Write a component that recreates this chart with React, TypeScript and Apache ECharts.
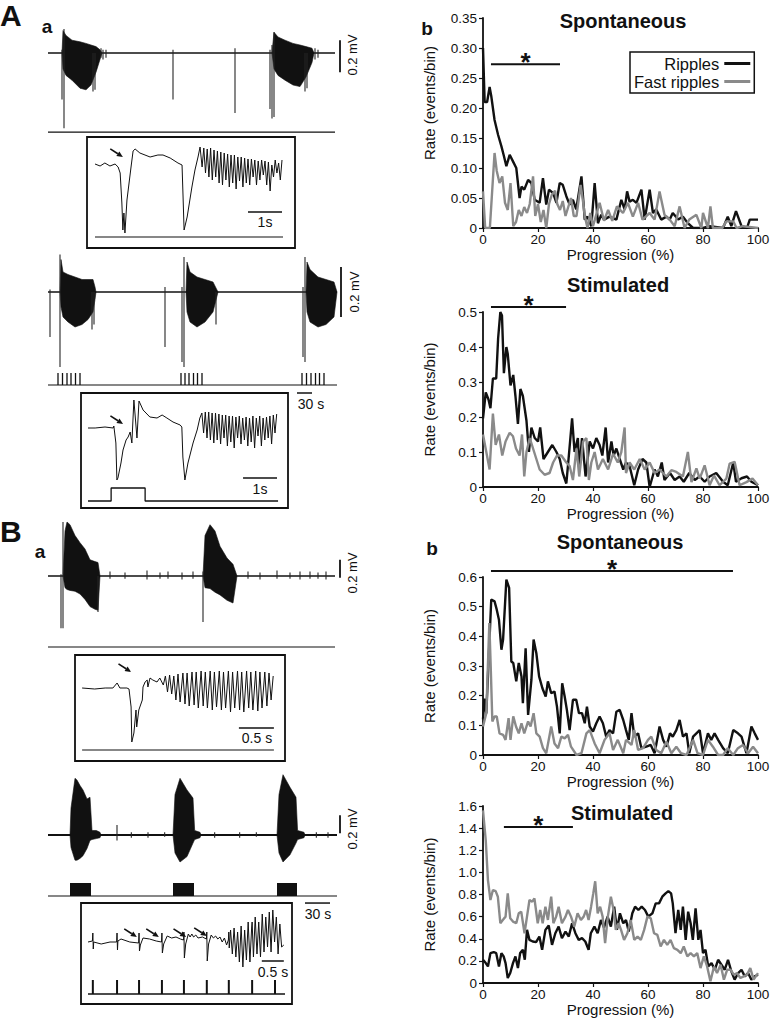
import React, { useEffect, useRef } from 'react';
import * as echarts from 'echarts';

const FONT = "'Liberation Sans', Arial, Helvetica, sans-serif";
const INK = '#111111';
const GREY = '#8a8a8a';

// ================= (b) panels: event rate vs seizure progression =================
const seriesNames = ['Ripples', 'Fast ripples'];
const panelTitles = ['Spontaneous', 'Stimulated', 'Spontaneous', 'Stimulated'];
const rateMax = [0.35, 0.5, 0.6, 1.6];
const rateStep = [0.05, 0.1, 0.1, 0.2];
const rateDecimals = [2, 1, 1, 1];
const progressionRange = [0, 100];
const progressionStep = 20;

const ripplesSpontA = [[0,0.30],[0.6,0.21],[1.5,0.21],[2.4,0.235],[3,0.22],[4.2,0.18],[5.5,0.155],[6.7,0.136],[7.6,0.12],[8.5,0.103],[9.7,0.122],[10.9,0.111],[12.1,0.1],[13.3,0.05],[14,0.069],[15,0.064],[16.4,0.08],[17.6,0.075],[18.8,0.047],[20.6,0.042],[21.8,0.083],[23,0.039],[24,0.064],[25.5,0.058],[26.7,0.042],[27.9,0.075],[29,0.072],[30.3,0.053],[31.5,0.039],[32.7,0.047],[33.9,0.031],[35.8,0.086],[37,0.014],[38,0.019],[39.4,0.003],[40.6,0.075],[41.8,0.008],[43,0.022],[44,0.014],[46,0.019],[48.5,0.014],[50.3,0.047],[51.5,0.031],[52.4,0.061],[53.3,0.044],[54.5,0.047],[55.8,0.042],[57.6,0.064],[58.8,0.014],[60.6,0.064],[61.8,0.025],[63,0.031],[64.8,0.014],[66.7,0.019],[67.9,0.014],[69,0.025],[71,0.014],[72.7,0.019],[74.5,0.008],[76.4,0],[80,0],[82.4,0.003],[87.3,0],[89,0.019],[90.3,0.003],[92,0.028],[94,0.003],[96,0],[97,0.014],[100,0.014]];
const fastSpontA = [[0,0.061],[0.8,0],[2.5,0],[4.2,0.125],[5,0.095],[6,0.075],[7,0.086],[8,0.042],[9,0.03],[10,0.075],[11,0.003],[12,0.01],[13,0.03],[14,0.02],[15,0.035],[16,0.025],[17,0.04],[18.2,0.086],[19,0.02],[20,0.04],[21,0.01],[22,0.03],[23,0],[24,0.04],[25,0.055],[26.2,0.062],[27,0.04],[28,0.03],[29,0.045],[30,0.02],[31,0.035],[32,0.05],[33,0.02],[34,0.02],[35.5,0.072],[36.5,0.04],[37,0.02],[38,0],[39,0.025],[40,0.003],[42.4,0.042],[44,0.012],[45.5,0.03],[47,0.012],[48.7,0.036],[50.9,0.025],[52.7,0.042],[54.5,0.019],[56.4,0.042],[58,0.014],[60.6,0.025],[62.4,0.014],[64.2,0.061],[66,0.022],[67.9,0.014],[69.7,0.003],[71.5,0.036],[73.3,0],[75,0.014],[77.6,0.022],[79.4,0],[80,0.025],[81.8,0],[82.7,0.036],[83.6,0],[87,0],[88.5,0.011],[91,0.011],[92.2,0],[94.5,0.003],[100,0]];
const ripplesStimA = [[0,0.196],[1,0.27],[2,0.25],[2.7,0.225],[3.6,0.31],[4.8,0.31],[5.5,0.425],[6.3,0.5],[6.9,0.49],[7.6,0.325],[8.5,0.4],[9,0.38],[10,0.29],[11,0.32],[11.8,0.26],[12.7,0.18],[13.6,0.28],[14.5,0.26],[15.8,0.19],[16.7,0.1],[17.6,0.17],[18.8,0.14],[20,0.13],[20.8,0.17],[22,0.08],[23.6,0.1],[25.2,0.12],[26.7,0.1],[27.9,0.08],[29,0.04],[30.3,0.01],[31,0.07],[32.4,0.196],[33.3,0.1],[34.5,0.14],[35,0.05],[36,0.14],[37.3,0.03],[38.8,0.13],[40,0.11],[41.2,0.14],[42.4,0.12],[43.4,0.09],[44.6,0.17],[45.5,0.07],[46.7,0.13],[47.5,0.09],[48.5,0.11],[49.7,0.08],[51,0.05],[52,0.07],[53.3,0.06],[55,0.005],[56.4,0.05],[58,0.08],[59.4,0.07],[60.6,0],[62.4,0.05],[63.6,0.03],[65,0.07],[66,0.02],[68,0.04],[69.7,0.02],[71.5,0.03],[73,0.015],[75,0.04],[77,0.02],[78.8,0.03],[80.6,0.015],[82.4,0.03],[84.8,0.04],[87.3,0.015],[89,0.005],[91,0.07],[92,0.015],[94,0.025],[96,0.03],[97.6,0.015],[100,0.005]];
const fastStimA = [[0,0.15],[1.2,0.1],[2.4,0.05],[3.6,0.21],[4.6,0.12],[5.8,0.15],[7,0.09],[8.2,0.13],[9.7,0.155],[10.9,0.145],[12,0.11],[13.3,0.09],[14.2,0.15],[15,0.03],[15.8,0.1],[17,0.14],[18.2,0.11],[19.4,0.08],[20.6,0.05],[22.4,0.035],[24.2,0.04],[25.5,0.07],[26.9,0.09],[28.5,0.09],[30.3,0.07],[31.5,0.06],[32.7,0.02],[34,0.11],[35,0.03],[36.4,0.13],[37.6,0.14],[38.5,0.02],[39.4,0.07],[40.6,0.1],[41.8,0.05],[43.6,0.08],[45.5,0.05],[47.3,0.095],[49,0.07],[50.3,0.1],[51.5,0.17],[52,0.04],[53.3,0.07],[55,0.05],[57,0.08],[58.8,0.05],[60.6,0.07],[62.4,0.04],[64.2,0.05],[66.7,0.03],[68.5,0.048],[70.3,0.043],[72.7,0.03],[74.5,0.1],[75.8,0.014],[77.6,0.053],[78.8,0.024],[80.6,0.062],[82.4,0.005],[84,0.033],[86,0.005],[88.5,0.024],[89.7,0.067],[91.5,0.072],[93.3,0.005],[95.8,0.014],[98,0.024],[100,0.005]];
const ripplesSpontB = [[0,0.12],[0.5,0.19],[1.2,0.14],[3,0.524],[4.2,0.518],[5,0.49],[5.8,0.456],[6.7,0.355],[7.3,0.389],[8.5,0.591],[9.5,0.563],[10.3,0.315],[11,0.31],[12.1,0.248],[13,0.31],[14,0.265],[14.5,0.175],[15.5,0.36],[16.4,0.135],[17.6,0.253],[18.4,0.389],[19.4,0.343],[20.4,0.265],[21.6,0.225],[22.8,0.197],[23.6,0.248],[24.8,0.208],[26,0.214],[26.9,0.163],[27.9,0.073],[28.8,0.242],[29.7,0.197],[30.5,0.152],[31.5,0.084],[32.7,0.186],[33.9,0.186],[34.9,0.141],[36,0.141],[37,0.107],[37.8,0.163],[38.8,0.096],[40,0.079],[41.2,0.107],[42.4,0.13],[43.6,0.107],[44.8,0.062],[46,0.084],[47.3,0.073],[48.5,0.146],[49.7,0.152],[51,0.118],[52,0.084],[53,0.051],[54,0.141],[55,0.062],[56.4,0.073],[57.6,0.023],[59.4,0.028],[61,0.034],[62.4,0.006],[64.2,0.096],[65.5,0.051],[66.7,0.028],[68,0.073],[69,0.062],[70.3,0.084],[71.5,0.118],[72.7,0.062],[74,0.073],[75,0.006],[76.4,0.062],[77.6,0.073],[78.8,0.084],[80,0.006],[81.8,0.073],[83,0.051],[84.2,0.073],[85.5,0.051],[87.3,0.023],[89,0.006],[91,0.084],[92.7,0.073],[94,0.062],[95.8,0.006],[97.6,0.096],[98.8,0.073],[100,0.051]];
const fastSpontB = [[0,0.096],[1.2,0.141],[2.3,0.445],[2.8,0.3],[3.4,0.113],[4.2,0.13],[5,0.13],[6,0.073],[7.3,0.068],[8.2,0.051],[9.3,0.124],[10,0.051],[11,0.13],[12,0.096],[13,0.073],[14,0.107],[15,0.073],[16.4,0.113],[17.3,0.096],[18.4,0.141],[19.4,0.073],[20.6,0.062],[21.8,0.023],[23,0.006],[24.8,0.096],[26,0.039],[27.3,0.023],[28.5,0.062],[29.7,0.056],[30.9,0.068],[32,0.028],[34,0],[35.8,0.006],[37.6,0.073],[38.8,0.084],[40.6,0.039],[42.4,0.006],[44.2,0.051],[46,0.073],[47.3,0.017],[49,0.051],[51,0.006],[52,0.051],[54,0.034],[55,0.084],[56.4,0.017],[58.2,0.023],[60,0.051],[61.2,0.062],[63,0.017],[64.8,0.006],[66.7,0.045],[68.5,0.006],[70.3,0.028],[72,0.006],[74,0],[76.4,0.051],[78,0.006],[80,0],[81.8,0.051],[83.6,0.028],[85.5,0],[87.3,0],[89,0.023],[91,0],[92.7,0.023],[94.5,0.034],[96.4,0.006],[98.2,0.028],[100,0.006]];
const ripplesStimB = [[0,0.21],[1,0.18],[1.8,0.15],[2.7,0.27],[3.9,0.28],[4.8,0.27],[5.8,0.15],[6.7,0.27],[7.5,0.24],[8.2,0.18],[9,0.045],[9.9,0.09],[10.9,0.18],[11.8,0.24],[12.7,0.135],[13.5,0.27],[14.5,0.3],[15.2,0.21],[16,0.48],[16.9,0.39],[18.1,0.375],[19.3,0.37],[20.5,0.42],[21.5,0.3],[22.7,0.48],[23.9,0.52],[25.1,0.345],[26.3,0.45],[27.5,0.51],[28.7,0.405],[30,0.465],[31.2,0.42],[32.4,0.54],[33.6,0.45],[34.8,0.39],[36,0.405],[37.2,0.375],[38.4,0.3],[39.2,0.45],[40.5,0.51],[41.7,0.45],[42.9,0.57],[44,0.5],[45.3,0.6],[46.5,0.51],[47.7,0.69],[48.7,0.48],[49.8,0.63],[51,0.54],[52,0.57],[53,0.465],[54.3,0.63],[55.3,0.69],[56.5,0.66],[57.7,0.69],[58.9,0.66],[60.1,0.6],[61.6,0.63],[62.8,0.72],[64,0.72],[65.2,0.78],[66.4,0.81],[67.4,0.83],[68.4,0.81],[69,0.72],[70,0.45],[71,0.66],[71.9,0.48],[72.7,0.69],[73.7,0.39],[74.6,0.645],[75.5,0.54],[76.3,0.39],[77.3,0.675],[78.3,0.39],[79.1,0.48],[80,0.27],[80.9,0.3],[81.9,0.15],[83.1,0.18],[84.3,0.12],[85.5,0.21],[86.7,0.165],[87.9,0.12],[89.1,0.21],[90.3,0.105],[91.5,0.03],[92.8,0.09],[94,0.12],[95.2,0.06],[96.4,0.09],[97.6,0.03],[98.8,0.06],[100,0.075]];
const fastStimB = [[0,1.56],[1,1.29],[1.8,0.93],[2.7,0.75],[3.6,0.84],[4.6,0.83],[5.4,0.78],[6.3,0.54],[7.2,0.57],[8.2,0.6],[9,0.81],[9.9,0.585],[10.9,0.555],[12.1,0.54],[13,0.63],[13.9,0.645],[15.1,0.45],[16,0.6],[16.9,0.75],[17.9,0.735],[18.7,0.765],[19.9,0.54],[20.8,0.66],[21.7,0.54],[22.7,0.69],[23.6,0.57],[24.8,0.78],[25.6,0.54],[26.6,0.6],[27.5,0.69],[28.7,0.54],[30,0.6],[30.9,0.66],[32,0.6],[33.2,0.51],[34.4,0.63],[35.6,0.57],[36.6,0.6],[37.5,0.66],[38.4,0.57],[39.3,0.69],[40.1,0.81],[40.8,0.92],[41.7,0.63],[42.6,0.69],[43.5,0.6],[44.4,0.36],[45.4,0.6],[46.5,0.78],[47.5,0.66],[48.3,0.48],[49.3,0.54],[50.2,0.48],[51.3,0.39],[52.5,0.45],[53.7,0.57],[55,0.39],[56.2,0.42],[57.4,0.39],[58.6,0.48],[59.8,0.6],[61,0.585],[62.2,0.45],[63.4,0.435],[64.6,0.33],[65.8,0.39],[67,0.345],[68.2,0.39],[69.4,0.315],[70.7,0.3],[71.9,0.27],[73,0.33],[74.3,0.24],[75.5,0.27],[76.7,0.24],[77.9,0.27],[79.1,0.135],[80.3,0.24],[81.5,0.15],[82.7,0.015],[84,0.15],[85.1,0.09],[86.4,0.165],[87.6,0.03],[88.8,0.12],[90,0.12],[91.2,0.075],[92.4,0.09],[93.6,0.045],[94.8,0.06],[96,0.075],[97.2,0.135],[98.4,0.03],[100,0.09]];

const ripplesByPanel = [ripplesSpontA, ripplesStimA, ripplesSpontB, ripplesStimB];
const fastByPanel = [fastSpontA, fastStimA, fastSpontB, fastStimB];

// significance bars: [from %, to %, rate level]
const sigBars = [[2.9, 28, 0.273], [2.9, 30.2, 0.514], [2.9, 90.9, 0.62], [7.6, 32.7, 1.41]];

// ================= (a) panels: field-potential recordings =================
// long traces: time (s), potential (mV)
const burstsA1 = [
  [[28,0,0],[30,0.14,-0.1],[36,0.11,-0.14],[48,0.08,-0.17],[64,0.07,-0.22],[76,0.06,-0.23],[86,0.05,-0.2],[96,0.04,-0.12],[104,0.02,-0.04],[108,0,0]],
  [[448,0,0],[452,0.13,-0.1],[460,0.1,-0.14],[474,0.08,-0.17],[490,0.06,-0.2],[504,0.05,-0.21],[516,0.04,-0.15],[528,0.03,-0.06],[532,0,0]],
];
const spikesA1 = [[28,-0.29,0.02],[32,-0.47,0.15],[90,-0.24,0],[94,-0.23,0],[106,-0.03,0.03],[110,-0.04,0.02],[116,-0.03,0.02],[250,-0.29,0.02],[374,-0.375,0.03],[444,-0.35,0.02],[448,-0.41,0.05],[452,-0.4,0.13],[514,-0.24,0],[518,-0.22,0],[534,-0.04,0.03],[540,-0.03,0.02]];
const baselineA1 = [[0,0],[574,0]];
const stimChannelA1 = [[0,-0.494],[574,-0.494]];
const scaleA1_mV = [[584,-0.12],[584,0.08]];

const burstsA2 = [
  [[24,0,0],[26,0.13,-0.06],[30,0.08,-0.1],[40,0.07,-0.12],[54,0.06,-0.14],[68,0.05,-0.13],[80,0.05,-0.11],[90,0.05,-0.08],[94,0.02,-0.03],[96,0,0]],
  [[276,0,0],[278,0.12,-0.08],[284,0.08,-0.12],[298,0.06,-0.14],[314,0.05,-0.12],[330,0.04,-0.08],[340,0,0]],
  [[516,0,0],[518,0.12,-0.08],[524,0.09,-0.12],[540,0.06,-0.14],[556,0.05,-0.13],[572,0.04,-0.1],[578,0,0]],
];
const spikesA2 = [[4,-0.18,0.01],[24,-0.3,0.15],[88,-0.15,0],[92,-0.13,0],[234,-0.22,0.02],[268,-0.28,0.02],[272,-0.3,0.14],[336,-0.13,0],[510,-0.26,0.02],[514,-0.28,0.14]];
const baselineA2 = [[0,0],[578,0]];
const stimBaseA2 = [[0,-0.372],[578,-0.372]];
const stimTrainsA2 = [20,29,38,46,55,64,266,274,282,291,299,308,508,517,526,535,543,552].map((t) => [t, -0.372, -0.324]);
const scaleA2_mV = [[586,-0.1],[586,0.1]];
const scaleA2_30s = [[498,-0.404],[528,-0.404]];

const burstsB1 = [
  [[30,0,0],[34,0.5,-0.13],[38,0.6,-0.15],[44,0.57,-0.16],[54,0.45,-0.17],[64,0.37,-0.2],[74,0.3,-0.26],[84,0.18,-0.34],[94,0.16,-0.37],[100,0.15,-0.38],[104,0,0]],
  [[310,0,0],[314,0.45,-0.13],[324,0.57,-0.14],[334,0.5,-0.18],[344,0.33,-0.21],[358,0.2,-0.27],[370,0.13,-0.3],[378,0,0]],
];
const spikesB1 = [[26,-0.58,0.02],[30,-0.58,0.6],[100,-0.4,0],[310,-0.51,0.05],[124,-0.03,0.05],[154,-0.03,0.04],[198,-0.04,0.06],[224,-0.03,0.04],[240,-0.03,0.05],[268,-0.04,0.04],[290,-0.03,0.05],[400,-0.03,0.05],[424,-0.04,0.04],[458,-0.03,0.06],[484,-0.03,0.04],[504,-0.04,0.05],[524,-0.03,0.05],[540,-0.03,0.04],[556,-0.04,0.05]];
const baselineB1 = [[0,0],[574,0]];
const stimChannelB1 = [[0,-0.789],[574,-0.789]];
const scaleB1_mV = [[584,-0.02],[584,0.18]];

const burstsB2 = [
  [[26.4,0,0],[27.6,0.3,-0.14],[32.4,0.63,-0.28],[34.8,0.61,-0.28],[38.4,0.55,-0.26],[42,0.5,-0.23],[46.8,0.4,-0.15],[50.4,0.42,-0.06],[52.8,0.05,-0.05],[58,0.05,-0.04],[62.4,0.03,-0.03],[63.6,0,0]],
  [[150,0,0],[152.4,0.45,-0.2],[158.4,0.63,-0.3],[166.8,0.5,-0.24],[174,0.41,-0.09],[176,0.05,-0.05],[182.4,0.03,-0.03],[183.6,0,0]],
  [[274.8,0,0],[277.2,0.45,-0.2],[282,0.67,-0.3],[290.4,0.53,-0.22],[297.6,0.42,-0.09],[299.5,0.05,-0.05],[307.2,0.03,-0.03],[308.4,0,0]],
];
const spikesB2 = [[82.8,-0.06,0.11],[100,-0.03,0.03],[120,-0.03,0.03],[140,-0.02,0.03],[200,-0.03,0.03],[230,-0.03,0.03],[250,-0.02,0.03],[322,-0.03,0.03],[336,-0.03,0.03]];
const baselineB2 = [[0,0],[346.8,0]];
const stimBaseB2 = [[0,-0.678],[346.8,-0.678]];
const stimBlocksB2 = [[26.4,51.6],[150,175.2],[274.8,298.8]];
const scaleB2_mV = [[350.4,0.02],[350.4,0.22]];
const scaleB2_30s = [[308.4,-0.756],[338.4,-0.756]];

// insets: time (s), potential (a.u.)
const insetA1 = [[0,0.01],[0.15,-0.01],[0.29,0.02],[0.44,-0.01],[0.59,0.01],[0.68,-0.02],[0.74,-0.08],[0.79,-0.38],[0.82,-0.65],[0.85,-0.48],[0.88,-0.68],[0.94,-0.35],[1.06,-0.02],[1.12,0.14],[1.18,0.16],[1.32,0.12],[1.62,0.08],[1.85,0.1],[2,0.1],[2.21,0.07],[2.44,0.02],[2.56,0],[2.59,-0.32],[2.62,-0.65],[2.71,-0.52],[2.85,-0.22],[2.94,-0.05],[3.03,0.08],[3.09,0.18],[3.15,-0.02],[3.2,0.17],[3.25,-0.08],[3.3,0.16],[3.35,-0.12],[3.4,0.17],[3.45,-0.15],[3.5,0.15],[3.55,-0.12],[3.6,0.14],[3.65,-0.18],[3.7,0.13],[3.75,-0.2],[3.8,0.12],[3.85,-0.15],[3.9,0.11],[3.95,-0.22],[4,0.1],[4.05,-0.18],[4.1,0.1],[4.15,-0.24],[4.2,0.08],[4.25,-0.16],[4.3,0.08],[4.35,-0.22],[4.4,0.07],[4.45,-0.18],[4.5,0.06],[4.55,-0.2],[4.6,0.06],[4.65,-0.12],[4.7,0.05],[4.75,-0.2],[4.8,0.04],[4.85,-0.15],[4.9,0.05],[4.95,-0.1],[5,0.04],[5.05,-0.2],[5.1,0.03],[5.15,-0.26],[5.2,0],[5.25,-0.12],[5.3,0.05],[5.35,-0.08],[5.4,0.02],[5.45,-0.15],[5.5,0.05]];
const insetA1Lower = [[0,-0.72],[5.53,-0.72]];
const insetA1Scale1s = [[4.5,-0.47],[5.5,-0.47]];
const insetA1Arrows = [[0.82,0.08]];

const insetA2 = [[0,0],[0.21,0],[0.5,0.01],[0.74,0],[0.76,0.02],[0.82,-0.15],[0.85,-0.52],[0.88,-0.5],[0.97,-0.35],[1.03,-0.22],[1.12,-0.12],[1.18,-0.09],[1.24,-0.04],[1.29,-0.15],[1.35,0.28],[1.44,-0.1],[1.5,0.27],[1.62,0.18],[1.82,0.11],[2.03,0.1],[2.18,0.13],[2.32,0.1],[2.5,0.06],[2.71,0.03],[2.76,0.01],[2.79,-0.29],[2.85,-0.52],[2.94,-0.35],[3.09,-0.15],[3.21,-0.02],[3.29,0.1],[3.35,0.15],[3.4,-0.05],[3.45,0.16],[3.5,-0.1],[3.55,0.16],[3.6,-0.12],[3.65,0.15],[3.7,-0.15],[3.75,0.15],[3.8,-0.12],[3.85,0.14],[3.9,-0.16],[3.95,0.13],[4,-0.1],[4.05,0.13],[4.1,-0.18],[4.15,0.12],[4.2,-0.14],[4.25,0.12],[4.3,-0.2],[4.35,0.11],[4.4,-0.1],[4.45,0.12],[4.5,-0.16],[4.55,0.1],[4.6,-0.12],[4.65,0.11],[4.7,-0.18],[4.75,0.1],[4.8,-0.14],[4.85,0.12],[4.9,-0.2],[4.95,0.1],[5,-0.08],[5.05,0.12],[5.1,-0.18],[5.15,0.1],[5.2,-0.12],[5.25,0.11],[5.3,-0.1],[5.35,0.12],[5.4,-0.16],[5.45,0.13],[5.5,-0.05],[5.55,0.14]];
const insetA2Stim = [[0,-0.73],[0.68,-0.73],[0.68,-0.6],[1.68,-0.6],[1.68,-0.73],[5.59,-0.73]];
const insetA2Scale1s = [[4.56,-0.5],[5.56,-0.5]];
const insetA2Arrows = [[1.03,0.04]];

const insetB1 = [[0.03,0],[0.21,-0.01],[0.36,0],[0.47,0],[0.53,0.05],[0.57,0],[0.67,0],[0.7,-0.01],[0.73,-0.19],[0.74,-0.54],[0.77,-0.45],[0.8,-0.22],[0.81,-0.39],[0.84,-0.22],[0.89,-0.12],[0.9,0.01],[0.93,0.06],[0.96,0.08],[0.97,0.01],[1,0.1],[1.04,0.08],[1.1,0.06],[1.14,0.1],[1.19,0.03],[1.22,0.12],[1.25,-0.04],[1.28,0.13],[1.31,-0.06],[1.34,0.12],[1.37,-0.12],[1.4,0.14],[1.43,-0.14],[1.47,0.15],[1.5,-0.16],[1.53,0.15],[1.56,-0.18],[1.6,0.16],[1.63,-0.17],[1.66,0.16],[1.69,-0.2],[1.73,0.17],[1.76,-0.18],[1.79,0.16],[1.82,-0.2],[1.86,0.17],[1.89,-0.22],[1.92,0.16],[1.95,-0.19],[1.99,0.17],[2.02,-0.22],[2.05,0.16],[2.08,-0.2],[2.12,0.17],[2.15,-0.24],[2.18,0.16],[2.21,-0.2],[2.25,0.17],[2.28,-0.22],[2.31,0.16],[2.34,-0.24],[2.38,0.17],[2.41,-0.2],[2.44,0.16],[2.47,-0.22],[2.51,0.17],[2.54,-0.23],[2.57,0.16],[2.6,-0.2],[2.64,0.16],[2.67,-0.18],[2.7,0.15],[2.73,-0.12],[2.76,0.12]];
const insetB1Lower = [[0.03,-0.62],[2.77,-0.62]];
const insetB1Scale05s = [[2.27,-0.4],[2.77,-0.4]];
const insetB1Arrows = [[0.73,0.16]];

const insetB2 = [[0,0],[0.1,0.01],[0.11,0.09],[0.12,-0.07],[0.13,0],[0.3,-0.02],[0.5,0],[0.65,0],[0.66,0.09],[0.67,-0.08],[0.68,0.01],[0.75,0.03],[0.95,0],[1.15,-0.01],[1.16,0.09],[1.17,-0.09],[1.19,-0.03],[1.25,0.04],[1.4,0.03],[1.55,0.01],[1.67,0],[1.68,0.09],[1.69,-0.11],[1.72,-0.02],[1.8,0.06],[1.9,0.04],[2,0.05],[2.1,0.03],[2.17,0.02],[2.18,0.1],[2.19,-0.16],[2.22,-0.02],[2.28,0.08],[2.32,0.05],[2.36,0.08],[2.4,0.05],[2.45,0.07],[2.5,0.04],[2.6,0.05],[2.69,0.03],[2.7,0.1],[2.71,-0.19],[2.74,-0.02],[2.8,0.07],[2.85,0.04],[2.9,0.06],[2.95,0.03],[3,0.05],[3.05,0],[3.1,0.04],[3.15,-0.03],[3.19,0.02],[3.2,0.1],[3.21,-0.06],[3.24,0.12],[3.28,-0.12],[3.32,0.14],[3.36,-0.15],[3.4,0.1],[3.44,-0.2],[3.48,0.16],[3.52,-0.25],[3.56,0.12],[3.6,-0.18],[3.64,0.2],[3.68,-0.2],[3.72,0.15],[3.73,0.2],[3.76,-0.15],[3.8,0.25],[3.84,-0.12],[3.88,0.2],[3.92,-0.15],[3.96,0.28],[4,-0.1],[4.04,0.25],[4.08,-0.05],[4.12,0.3],[4.16,-0.1],[4.2,0.32],[4.24,0],[4.28,0.25],[4.32,-0.12],[4.36,0.18],[4.4,-0.05],[4.45,-0.03]];
const insetB2StimBase = [[0,-0.52],[4.477,-0.52]];
const insetB2Pulses = [0.11,0.66,1.16,1.68,2.18,2.7,3.2,3.73,4.25].map((t) => [t, -0.52, -0.38]);
const insetB2Scale05s = [[3.95,-0.19],[4.45,-0.19]];
const insetB2Arrows = [[1.11,0.05],[1.61,0.05],[2.23,0.05],[2.7,0.06]];

// ================= layout =================
const RATE_GRIDS = [
  { left: 483, top: 18, width: 275, height: 210, nameGap: 17 },
  { left: 483, top: 312, width: 275, height: 175, nameGap: 17 },
  { left: 483, top: 577, width: 275, height: 178, nameGap: 17 },
  { left: 483, top: 806, width: 275, height: 177, nameGap: 17 },
];
const TRACE_GRIDS = [
  { left: 48, top: 25, width: 297, height: 110, x: [0, 594], y: [-0.5125, 0.175] },
  { left: 95, top: 140, width: 188, height: 100, x: [0, 5.529], y: [-0.75, 0.25] },
  { left: 48, top: 250, width: 297, height: 140, x: [0, 594], y: [-0.392, 0.168] },
  { left: 88, top: 395, width: 192, height: 110, x: [0, 5.647], y: [-0.77, 0.33] },
  { left: 48, top: 515, width: 297, height: 135, x: [0, 594], y: [-0.8222, 0.6778] },
  { left: 80, top: 657, width: 195, height: 100, x: [0, 2.7857], y: [-0.69, 0.31] },
  { left: 48, top: 770, width: 297, height: 130, x: [0, 356.4], y: [-0.7222, 0.7222] },
  { left: 88, top: 905, width: 197, height: 95, x: [0, 4.477], y: [-0.58, 0.37] },
];
const G = { A1: 4, A1i: 5, A2: 6, A2i: 7, B1: 8, B1i: 9, B2: 10, B2i: 11 };

const line = (g: number, data: number[][], width = 1, color = INK, z = 3) => ({
  type: 'line', xAxisIndex: g, yAxisIndex: g, data, symbol: 'none', showSymbol: false,
  silent: true, clip: false, lineStyle: { color, width }, itemStyle: { color },
  emphasis: { disabled: true }, z,
});

const bursts = (g: number, list: number[][][]) => ({
  type: 'custom', xAxisIndex: g, yAxisIndex: g, silent: true, z: 4,
  data: list.map((b) => [b[0][0], 0]),
  renderItem: (params: any, api: any) => {
    const env = list[params.dataIndex];
    const top = env.map((r) => api.coord([r[0], r[1]]));
    const bot = env.slice().reverse().map((r) => api.coord([r[0], r[2]]));
    return { type: 'polygon', shape: { points: top.concat(bot) }, style: { fill: INK, stroke: INK, lineWidth: 0.6 } };
  },
});

const spikes = (g: number, data: number[][], width = 1.1, color = '#262626') => ({
  type: 'custom', xAxisIndex: g, yAxisIndex: g, silent: true, z: 5,
  data, encode: { x: 0, y: [1, 2] },
  renderItem: (params: any, api: any) => {
    const a = api.coord([api.value(0), api.value(1)]);
    const b = api.coord([api.value(0), api.value(2)]);
    return { type: 'line', shape: { x1: a[0], y1: a[1], x2: b[0], y2: b[1] }, style: { stroke: color, lineWidth: width } };
  },
});

const blocks = (g: number, data: number[][], lo: number, hi: number) => ({
  type: 'custom', xAxisIndex: g, yAxisIndex: g, silent: true, z: 4,
  data, encode: { x: [0, 1] },
  renderItem: (params: any, api: any) => {
    const a = api.coord([api.value(0), hi]);
    const b = api.coord([api.value(1), lo]);
    return { type: 'rect', shape: { x: a[0], y: a[1], width: b[0] - a[0], height: b[1] - a[1] }, style: { fill: INK } };
  },
});

const arrows = (g: number, tips: number[][]) => ({
  type: 'custom', xAxisIndex: g, yAxisIndex: g, silent: true, z: 6,
  data: tips,
  renderItem: (params: any, api: any) => {
    const p = api.coord([api.value(0), api.value(1)]);
    const dx = 0.84, dy = 0.54, L = 15, H = 6, W = 2.8;
    const bx = p[0] - dx * H, by = p[1] - dy * H;
    const nx = -dy, ny = dx;
    return {
      type: 'group', children: [
        { type: 'line', shape: { x1: p[0] - dx * L, y1: p[1] - dy * L, x2: bx, y2: by }, style: { stroke: INK, lineWidth: 1.6 } },
        { type: 'polygon', shape: { points: [[p[0], p[1]], [bx + nx * W, by + ny * W], [bx - nx * W, by - ny * W]] }, style: { fill: INK } },
      ],
    };
  },
});

function buildOption() {
  const grid: any[] = [];
  const xAxis: any[] = [];
  const yAxis: any[] = [];
  const series: any[] = [];
  const axisText = { color: INK, fontFamily: FONT, fontSize: 13.5 };

  RATE_GRIDS.forEach((r, i) => {
    grid.push({ left: r.left, top: r.top, width: r.width, height: r.height, containLabel: false, outerBoundsMode: 'none' });
    xAxis.push({
      type: 'value', gridIndex: i, min: progressionRange[0], max: progressionRange[1], interval: progressionStep,
      name: 'Progression (%)', nameLocation: 'middle', nameGap: r.nameGap,
      nameTextStyle: { color: INK, fontFamily: FONT, fontSize: 15 },
      axisLine: { show: true, onZero: false, lineStyle: { color: INK, width: 1.8 } },
      axisTick: { show: true, inside: false, length: 4, lineStyle: { color: INK, width: 1.2 } },
      axisLabel: { ...axisText, margin: 4 },
      splitLine: { show: false },
    });
    yAxis.push({
      type: 'value', gridIndex: i, min: 0, max: rateMax[i], interval: rateStep[i],
      name: 'Rate (events/bin)', nameLocation: 'middle', nameGap: 46, nameRotate: 90,
      nameTextStyle: { color: INK, fontFamily: FONT, fontSize: 15, padding: i === 0 ? [0, 0, 0, 40] : 0 },
      axisLine: { show: true, lineStyle: { color: INK, width: 1.8 } },
      axisTick: { show: true, inside: false, length: 4, lineStyle: { color: INK, width: 1.2 } },
      axisLabel: { ...axisText, margin: 6, formatter: (v: number) => (v === 0 ? '0' : v.toFixed(rateDecimals[i])) },
      splitLine: { show: false },
    });
    series.push({
      name: seriesNames[0], type: 'line', xAxisIndex: i, yAxisIndex: i, data: ripplesByPanel[i],
      symbol: 'none', showSymbol: false, lineStyle: { color: INK, width: 2.4 }, itemStyle: { color: INK }, z: 3,
    });
    series.push({
      name: seriesNames[1], type: 'line', xAxisIndex: i, yAxisIndex: i, data: fastByPanel[i],
      symbol: 'none', showSymbol: false, lineStyle: { color: GREY, width: 2.4 }, itemStyle: { color: GREY }, z: 4,
    });
  });

  TRACE_GRIDS.forEach((t, j) => {
    const idx = 4 + j;
    grid.push({ left: t.left, top: t.top, width: t.width, height: t.height, containLabel: false, outerBoundsMode: 'none' });
    xAxis.push({ type: 'value', gridIndex: idx, min: t.x[0], max: t.x[1], show: false, splitLine: { show: false } });
    yAxis.push({ type: 'value', gridIndex: idx, min: t.y[0], max: t.y[1], show: false, splitLine: { show: false } });
  });

  // A1
  series.push(line(G.A1, baselineA1, 1.5), line(G.A1, stimChannelA1, 1.2), line(G.A1, scaleA1_mV, 1.8));
  series.push(bursts(G.A1, burstsA1), spikes(G.A1, spikesA1));
  // A1 inset
  series.push(line(G.A1i, insetA1, 1), line(G.A1i, insetA1Lower, 1.2), line(G.A1i, insetA1Scale1s, 1.5), arrows(G.A1i, insetA1Arrows));
  // A2
  series.push(line(G.A2, baselineA2, 1.5), line(G.A2, stimBaseA2, 1.2), line(G.A2, scaleA2_mV, 1.8), line(G.A2, scaleA2_30s, 1.5));
  series.push(bursts(G.A2, burstsA2), spikes(G.A2, spikesA2), spikes(G.A2, stimTrainsA2, 1.3, INK));
  // A2 inset
  series.push(line(G.A2i, insetA2, 1), line(G.A2i, insetA2Stim, 1.3), line(G.A2i, insetA2Scale1s, 1.5), arrows(G.A2i, insetA2Arrows));
  // B1
  series.push(line(G.B1, baselineB1, 1.5), line(G.B1, stimChannelB1, 1.2), line(G.B1, scaleB1_mV, 1.8));
  series.push(bursts(G.B1, burstsB1), spikes(G.B1, spikesB1));
  // B1 inset
  series.push(line(G.B1i, insetB1, 1), line(G.B1i, insetB1Lower, 1.2), line(G.B1i, insetB1Scale05s, 1.5), arrows(G.B1i, insetB1Arrows));
  // B2
  series.push(line(G.B2, baselineB2, 2), line(G.B2, stimBaseB2, 1.2), line(G.B2, scaleB2_mV, 1.8), line(G.B2, scaleB2_30s, 1.5));
  series.push(bursts(G.B2, burstsB2), spikes(G.B2, spikesB2), blocks(G.B2, stimBlocksB2, -0.678, -0.533));
  // B2 inset
  series.push(line(G.B2i, insetB2, 1), line(G.B2i, insetB2StimBase, 1.3), spikes(G.B2i, insetB2Pulses, 2, INK), line(G.B2i, insetB2Scale05s, 1.5), arrows(G.B2i, insetB2Arrows));

  return {
    animation: false,
    backgroundColor: '#ffffff',
    textStyle: { fontFamily: FONT },
    legend: {
      data: seriesNames, orient: 'vertical', left: 630, top: 52, align: 'right', icon: 'rect',
      itemWidth: 26, itemHeight: 3, itemGap: 1, padding: [3, 4, 3, 4],
      borderColor: INK, borderWidth: 1.5, selectedMode: false,
      textStyle: { color: INK, fontFamily: FONT, fontSize: 16.5, width: 90 },
    },
    grid, xAxis, yAxis, series,
  };
}

const txt = (text: string, x: number, y: number, size: number, bold = false, rotation = 0, align = 'center') => ({
  type: 'text', x, y, rotation, silent: true, z: 10,
  style: { text, fill: INK, fontFamily: FONT, fontSize: size, fontWeight: bold ? 'bold' : 'normal', align, verticalAlign: 'middle' },
});

const box = (x1: number, y1: number, x2: number, y2: number) => ({
  type: 'rect', silent: true, z: 2, shape: { x: x1, y: y1, width: x2 - x1, height: y2 - y1 },
  style: { fill: 'none', stroke: INK, lineWidth: 1.8 },
});

export default function App() {
  const ref = useRef<HTMLDivElement>(null);
  useEffect(() => {
    if (!ref.current) return;
    const chart = echarts.init(ref.current, null, { renderer: 'svg' });
    chart.setOption(buildOption() as any);

    const elements: any[] = [
      txt('A', 0, 15, 30, true, 0, 'left'), txt('a', 47, 26, 19, true), txt('b', 427, 28, 19, true),
      txt('B', 0, 531, 30, true, 0, 'left'), txt('a', 40, 551, 19, true), txt('b', 432, 548, 19, true),
      box(87, 137, 295, 248), box(81, 393, 288, 508), box(75, 655, 285, 761), box(81, 903, 292, 1004),
      txt('0.2 mV', 352, 55, 13, false, Math.PI / 2), txt('0.2 mV', 354, 292, 13, false, Math.PI / 2),
      txt('0.2 mV', 352, 573, 13, false, Math.PI / 2), txt('0.2 mV', 352, 829, 13, false, Math.PI / 2),
      txt('30 s', 311, 404, 14), txt('30 s', 318, 914, 14),
      txt('1s', 265, 222, 14), txt('1s', 260, 489, 14), txt('0.5 s', 257, 738, 14), txt('0.5 s', 273, 972, 14),
      txt(panelTitles[0], 623, 21, 20, true), txt(panelTitles[1], 618, 285, 20, true),
      txt(panelTitles[2], 620, 542, 20, true), txt(panelTitles[3], 622, 813, 20, true),
    ];
    sigBars.forEach((b, i) => {
      const a = chart.convertToPixel({ gridIndex: i } as any, [b[0], b[2]]) as number[];
      const c = chart.convertToPixel({ gridIndex: i } as any, [b[1], b[2]]) as number[];
      elements.push({ type: 'line', silent: true, z: 10, shape: { x1: a[0], y1: a[1], x2: c[0], y2: c[1] }, style: { stroke: INK, lineWidth: 2 } });
      elements.push(txt('*', (a[0] + c[0]) / 2, a[1] - 2.5, 26, true));
    });
    chart.setOption({ graphic: { elements } } as any);
    return () => chart.dispose();
  }, []);
  return <div ref={ref} style={{ position: 'absolute', left: 0, top: 0, width: 771, height: 1024, background: '#fff' }} />;
}
